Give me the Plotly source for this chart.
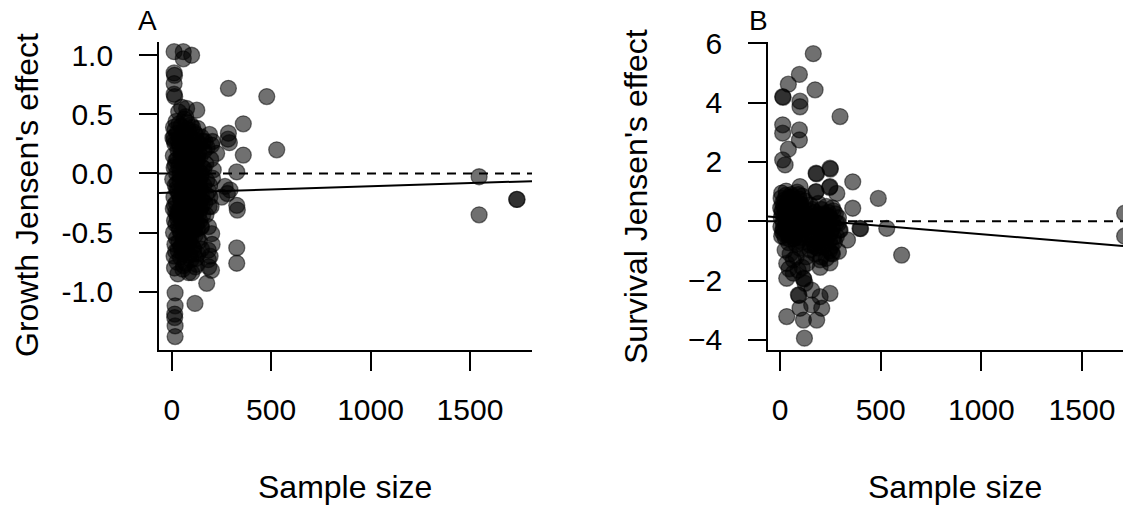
import plotly.graph_objects as go

# ---------------- Data ----------------
# Panel A: growth Jensen's effect vs sample size
growth_n = [
    12, 58, 100, 58, 12, 14, 12, 12, 15, 285, 478, 50, 75, 126, 360, 285, 283, 290, 528, 360,
    327, 268, 293, 251, 280, 327, 330, 201, 184, 184, 186, 327, 327, 176, 117, 17, 17, 15, 17, 17, 15,
    1546, 1546, 1735, 1737,
    226, 201, 168, 209, 190, 192, 188, 172, 185,
    22, 63, 96, 9, 47, 83, 131,
    27, 71, 112, 148, 6, 41, 92, 124, 158,
    16, 54, 101, 139, 178, 31, 66, 86, 119, 163,
    8, 46, 76, 109, 144, 21, 51, 94, 129, 171,
    12, 36, 69, 104, 154, 24, 61, 88, 121, 149,
    5, 41, 79, 116, 139, 176, 18, 56, 91, 126, 161,
    29, 64, 99, 134, 186, 11, 44, 78, 111, 151,
    23, 57, 94, 131, 166, 8, 39, 73, 106, 144,
    27, 61, 89, 121, 156, 14, 49, 81, 109, 141,
    34, 66, 101, 129, 9, 46, 84, 119,
    24, 59, 96, 139, 16, 51, 79,
    31, 64, 111, 131, 12, 44, 89, 121,
    26, 69, 126, 14, 56, 119, 31, 101,
    17, 12, 12, 35, 70, 45, 140, 110, 20, 60, 95, 150,
    33, 48, 72, 97, 115, 136,
    18, 42, 58, 82, 99, 113, 137, 162,
    25, 38, 52, 70, 84, 107, 118, 143, 172,
    14, 32, 48, 67, 86, 99, 115, 137, 152,
    21, 40, 58, 75, 92, 112, 126,
    36, 70, 88, 105, 20, 55, 97,
    37, 78, 105, 57, 120,
    28, 45, 62, 80, 97, 114, 130, 147,
    28, 45, 62, 80, 97, 114, 130, 147,
    28, 45, 62, 80, 97, 114, 130, 147,
    190, 205, 196, 205, 198, 203, 193, 200,
    40, 88, 125, 70, 110, 150, 60, 85,
]
growth_je = [
    1.03, 1.03, 1.00, 0.97, 0.85, 0.83, 0.76, 0.67, 0.65, 0.72, 0.65, 0.56, 0.55, 0.535, 0.42, 0.34, 0.29, 0.26, 0.20, 0.155,
    0.013, -0.11, -0.14, -0.20, -0.17, -0.27, -0.31, -0.51, -0.65, -0.73, -0.79, -0.63, -0.76, -0.93, -1.10, -1.01, -1.12, -1.19, -1.29, -1.38, -1.22,
    -0.028, -0.35, -0.22, -0.22,
    0.17, 0.24, 0.27, 0.03, -0.10, -0.20, -0.28, -0.35, -0.45,
    0.44, 0.46, 0.41, 0.39, 0.40, 0.37, 0.38,
    0.34, 0.33, 0.35, 0.31, 0.30, 0.29, 0.31, 0.28, 0.27,
    0.25, 0.24, 0.23, 0.25, 0.22, 0.20, 0.19, 0.21, 0.18, 0.19,
    0.15, 0.14, 0.16, 0.13, 0.15, 0.11, 0.09, 0.10, 0.12, 0.08,
    0.05, 0.06, 0.04, 0.03, 0.05, 0.00, -0.01, 0.01, -0.02, 0.00,
    -0.05, -0.06, -0.04, -0.07, -0.05, -0.06, -0.10, -0.11, -0.09, -0.12, -0.10,
    -0.15, -0.16, -0.14, -0.17, -0.15, -0.20, -0.21, -0.19, -0.22, -0.20,
    -0.25, -0.26, -0.24, -0.27, -0.25, -0.30, -0.31, -0.29, -0.32, -0.30,
    -0.35, -0.36, -0.34, -0.37, -0.35, -0.40, -0.41, -0.39, -0.42, -0.40,
    -0.45, -0.46, -0.44, -0.47, -0.50, -0.51, -0.49, -0.52,
    -0.55, -0.56, -0.54, -0.57, -0.60, -0.61, -0.59,
    -0.65, -0.66, -0.64, -0.68, -0.70, -0.71, -0.69, -0.72,
    -0.75, -0.76, -0.77, -0.80, -0.81, -0.79, -0.85, -0.84,
    0.37, 0.31, 0.28, 0.52, 0.48, -0.62, -0.12, 0.22, -0.33, 0.12, -0.03, -0.45,
    0.27, 0.18, 0.26, 0.16, 0.24, 0.17,
    0.07, -0.02, 0.09, 0.06, -0.03, 0.08, 0.02, 0.04,
    -0.13, -0.18, -0.14, -0.12, -0.17, -0.13, -0.18, -0.13, -0.18,
    -0.27, -0.33, -0.28, -0.34, -0.29, -0.36, -0.28, -0.34, -0.27,
    -0.43, -0.48, -0.43, -0.47, -0.42, -0.48, -0.43,
    -0.58, -0.63, -0.57, -0.62, -0.66, -0.68, -0.73,
    0.42, 0.43, 0.39, 0.35, 0.33,
    0.12, 0.02, 0.14, -0.01, 0.13, 0.01, 0.16, -0.03,
    -0.08, -0.22, -0.07, -0.23, -0.06, -0.24, -0.08, -0.22,
    -0.38, -0.33, -0.46, -0.36, -0.49, -0.37, -0.55, -0.45,
    0.33, 0.27, 0.12, -0.04, -0.28, -0.60, -0.70, -0.82,
    0.23, 0.24, 0.05, -0.58, -0.68, -0.64, -0.78, -0.84,
]

# Panel B: survival Jensen's effect vs sample size
surv_n = [
    165, 96, 41, 174, 13, 15, 99, 99, 298, 13, 13, 96, 96, 41, 13, 25, 179, 181, 248, 250,
    361, 99, 179, 177, 248, 246, 282, 488, 361, 397, 400, 530, 604, 335,
    1712, 1712,
    8, 30, 55, 85, 110, 5, 22, 45, 70, 95, 125, 12, 35, 60, 80, 105,
    3, 25, 50, 72, 98, 120, 10, 38, 62, 88, 112, 6, 28, 48, 75, 102, 128,
    15, 40, 65, 90, 115, 4, 22, 52, 78, 105, 12, 35, 60, 85, 118,
    25, 48, 70, 95, 8, 42, 80, 110,
    150, 190, 230, 260, 145, 175, 205, 240, 275, 160, 195, 225, 255, 290,
    140, 170, 210, 240, 280, 155, 190, 220, 250, 295, 165, 200, 235, 270,
    150, 185, 215, 245, 175, 205, 230, 260,
    25, 33, 66, 99, 133, 33, 66, 116, 118, 124, 91, 94, 157, 199, 248, 99, 157, 207, 116, 182, 33, 121,
    199, 199, 248, 256, 290, 149, 174, 231, 265, 298, 290,
    50, 80, 110, 45, 130, 90,
    18, 42, 65, 88, 108, 20, 45, 68, 92, 118, 32, 58, 82, 100, 18, 45, 72, 98, 125, 30, 62, 92,
    160, 185, 215, 245, 170, 200, 230, 260, 180, 210, 245, 190, 225, 160, 265, 280,
    10, 35, 55, 78, 100, 120, 15, 60, 175, 205, 235, 190, 220, 255, 170,
]
surv_je = [
    5.65, 4.95, 4.62, 4.43, 4.20, 4.18, 4.05, 3.86, 3.53, 3.25, 2.97, 3.08, 2.74, 2.43, 2.07, 1.90, 1.62, 1.60, 1.79, 1.76,
    1.33, 1.17, 1.00, 0.98, 1.17, 1.14, 0.94, 0.77, 0.44, -0.24, -0.25, -0.24, -1.14, -0.63,
    0.27, -0.50,
    0.95, 1.02, 0.90, 0.98, 0.85, 0.78, 0.72, 0.80, 0.70, 0.75, 0.68, 0.60, 0.55, 0.62, 0.50, 0.58,
    0.45, 0.40, 0.42, 0.35, 0.40, 0.30, 0.28, 0.22, 0.25, 0.18, 0.20, 0.12, 0.08, 0.10, 0.05, 0.00, 0.06,
    -0.02, -0.08, -0.05, -0.12, -0.10, -0.18, -0.22, -0.20, -0.26, -0.30, -0.35, -0.40, -0.38, -0.45, -0.42,
    -0.55, -0.60, -0.58, -0.65, -0.50, -0.72, -0.78, -0.70,
    0.55, 0.60, 0.50, 0.45, 0.35, 0.30, 0.40, 0.30, 0.25, 0.15, 0.10, 0.20, 0.05, 0.12,
    -0.05, -0.10, 0.00, -0.15, -0.05, -0.30, -0.25, -0.35, -0.40, -0.30, -0.50, -0.60, -0.55, -0.70,
    -0.80, -0.90, -0.85, -1.00, -1.10, -1.20, -1.25, -1.10,
    -0.97, -1.42, -1.30, -0.91, -1.42, -1.92, -1.75, -1.92, -1.95, -2.09, -2.48, -2.50, -2.32, -2.54, -2.43, -2.93, -2.82, -2.93, -3.33, -3.33, -3.21, -3.94,
    -1.30, -1.55, -1.40, -1.07, -1.01, -0.96, -0.85, -0.30, -0.53, -0.30, -0.07,
    -1.10, -1.20, -1.55, -1.60, -1.20, -1.65,
    0.50, 0.65, 0.45, 0.60, 0.38, 0.15, 0.30, 0.15, 0.28, 0.12, -0.15, -0.28, -0.05, -0.20, -0.42, -0.45, -0.50, -0.55, -0.25, 0.88, 0.82, 0.90,
    0.40, 0.20, 0.25, 0.15, -0.20, -0.15, -0.20, -0.25, -0.45, -0.45, -0.65, -0.70, -0.75, -0.60, 0.35, -0.50,
    0.35, 0.05, -0.12, 0.40, 0.55, -0.05, -0.25, 0.70, 0.05, -0.35, 0.05, -0.05, -0.55, -0.85, -0.75,
]

# regression fits (intercept, slope)
growth_fit = (-0.163, 5.4e-5)
surv_fit = (0.130, -5.64e-4)

x_ticks = [0, 500, 1000, 1500]
growth_ticks = [-1.0, -0.5, 0.0, 0.5, 1.0]
growth_tick_text = ["-1.0", "-0.5", "0.0", "0.5", "1.0"]
surv_ticks = [-4, -2, 0, 2, 4, 6]

# ---------------- Layout constants ----------------
W, H = 1123, 508
FONT = "Liberation Sans, Arial, Helvetica, sans-serif"
xrA = [-64, 1812]
xrB = [-60, 1704]
yrA = [-1.494, 1.112]
yrB = [-4.338, 6.043]
y_dom = [(H - 350) / H, (H - 42) / H]

marker = dict(size=16, color="rgba(0,0,0,0.56)", line=dict(color="rgba(0,0,0,0.5)", width=1.3))

fig = go.Figure()
fig.add_trace(go.Scatter(x=growth_n, y=growth_je, mode="markers", marker=marker,
                         xaxis="x", yaxis="y", showlegend=False))
fig.add_trace(go.Scatter(x=surv_n, y=surv_je, mode="markers", marker=marker,
                         xaxis="x2", yaxis="y2", showlegend=False))

tickfont = dict(family=FONT, size=30, color="black")
common_x = dict(showgrid=False, zeroline=False, showline=True, linecolor="black", linewidth=1.8,
                ticks="outside", ticklen=19, tickwidth=1.6, tickcolor="black", automargin=False,
                tickvals=x_ticks, tickfont=tickfont, ticklabelstandoff=13)
common_y = dict(showgrid=False, zeroline=False, showline=True, linecolor="black", linewidth=1.8,
                ticks="outside", ticklen=18, tickwidth=1.6, tickcolor="black", automargin=False,
                tickfont=tickfont, ticklabelstandoff=20)

fig.update_layout(
    template="none",
    width=W, height=H, autosize=False,
    margin=dict(l=0, r=0, t=0, b=0, pad=0),
    paper_bgcolor="white", plot_bgcolor="white",
    font=dict(family=FONT, color="black"),
    xaxis=dict(domain=[159 / W, 532 / W], range=xrA, anchor="y", **common_x),
    yaxis=dict(domain=y_dom, range=yrA, anchor="x", tickvals=growth_ticks, ticktext=growth_tick_text, **common_y),
    xaxis2=dict(domain=[768 / W, 1.0], range=xrB, anchor="y2", **common_x),
    yaxis2=dict(domain=y_dom, range=yrB, anchor="x2", tickvals=surv_ticks, **common_y),
)

# reference lines (y = 0) and fitted lines
for xr, xref, yref, fit in [(xrA, "x", "y", growth_fit), (xrB, "x2", "y2", surv_fit)]:
    fig.add_shape(type="line", xref=xref + " domain", yref=yref, x0=0, x1=1, y0=0, y1=0,
                  line=dict(color="black", width=2, dash="9px,7px"))
    fig.add_shape(type="line", xref=xref, yref=yref, x0=xr[0], x1=xr[1],
                  y0=fit[0] + fit[1] * xr[0], y1=fit[0] + fit[1] * xr[1],
                  line=dict(color="black", width=2))

def ann(text, px, py, size, angle=0):
    fig.add_annotation(text=text, xref="paper", yref="paper", x=px / W, y=(H - py) / H,
                       xanchor="center", yanchor="middle", showarrow=False, textangle=angle,
                       font=dict(family=FONT, size=size, color="black"))

ann("A", 147, 20, 28)
ann("B", 758, 20, 28)
ann("Sample size", 345, 487, 32)
ann("Sample size", 955, 487, 32)
ann("Growth Jensen's effect", 27, 195, 32, -90)
ann("Survival Jensen's effect", 636, 197, 32, -90)

fig.write_html(
    "out.html",
    config={"displayModeBar": False},
    post_script="document.documentElement.style.margin='0';document.body.style.margin='0';"
                "document.documentElement.style.overflow='hidden';document.body.style.overflow='hidden';",
)
